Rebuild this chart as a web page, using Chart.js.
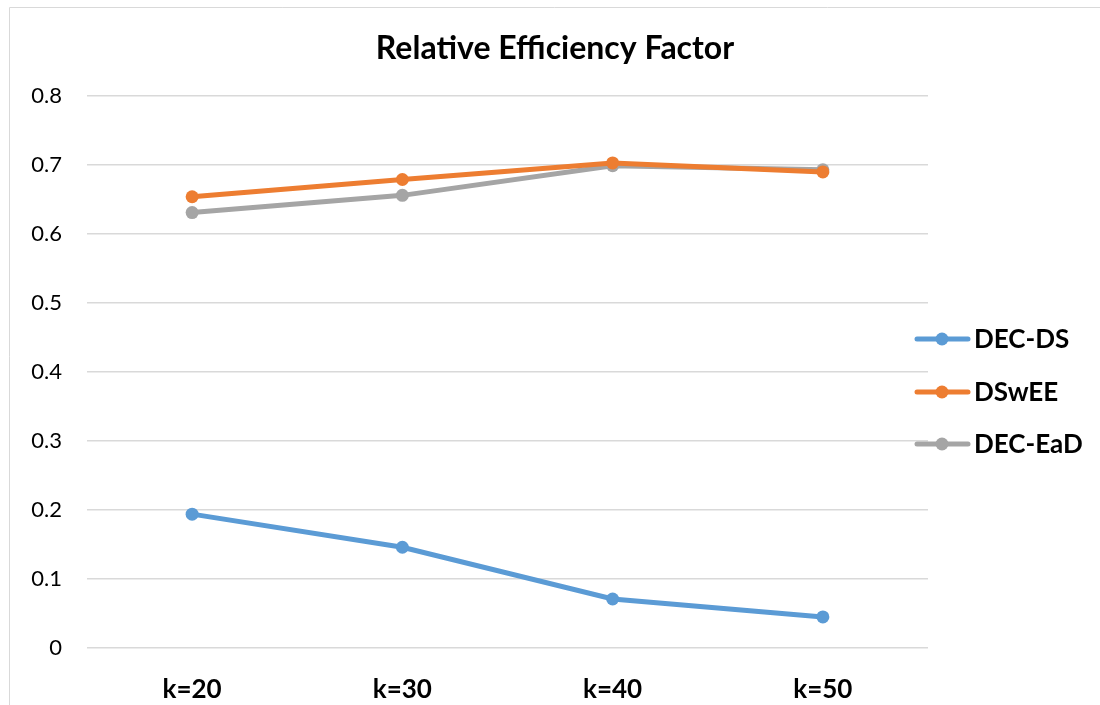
<!DOCTYPE html>
<html>
<head>
<meta charset="utf-8">
<script src="https://cdn.jsdelivr.net/npm/chart.js@4.4.1/dist/chart.umd.min.js"></script>
<style>
  html, body { margin: 0; padding: 0; background: #fff; }
  #wrap { width: 1100px; height: 705px; position: relative; }
</style>
</head>
<body>
<div id="wrap"><canvas id="effChart"></canvas></div>
<script>
const categories = ['k=20', 'k=30', 'k=40', 'k=50'];
const decDs = [0.194, 0.146, 0.071, 0.045];
const dswee = [0.654, 0.679, 0.703, 0.690];
const decEad = [0.631, 0.656, 0.699, 0.693];
const seriesNames = ['DEC-DS', 'DSwEE', 'DEC-EaD'];
const seriesColors = ['#5B9BD5', '#ED7D31', '#A5A5A5'];
const chartTitle = 'Relative Efficiency Factor';

const FONT = 'Lato, "Open Sans", sans-serif';

function makeSet(i, values) {
    return {
        label: seriesNames[i],
        data: values,
        borderColor: seriesColors[i],
        backgroundColor: seriesColors[i],
        borderWidth: 5,
        pointRadius: 6.5,
        pointHoverRadius: 6.5,
        pointBorderWidth: 0,
        tension: 0
    };
}

// outer frame of the chart box plus the title centred on the whole box
const framePlugin = {
    id: 'frame',
    beforeDraw(chart) {
        const c = chart.ctx;
        c.save();
        c.strokeStyle = '#d9d9d9';
        c.lineWidth = 1;
        c.beginPath();
        c.moveTo(9.5, chart.height);
        c.lineTo(9.5, 7.5);
        c.lineTo(chart.width, 7.5);
        c.stroke();
        c.fillStyle = '#000';
        c.font = 'bold 32px ' + FONT;
        c.textAlign = 'center';
        c.textBaseline = 'alphabetic';
        c.fillText(chartTitle, 555, 59);
        c.restore();
    }
};

// legend on the right: line sample with a marker, then bold name
const sideLegend = {
    id: 'sideLegend',
    afterDraw(chart) {
        const c = chart.ctx;
        const rows = [339, 392, 444];
        c.save();
        chart.data.datasets.forEach((ds, i) => {
            const y = rows[i];
            c.strokeStyle = ds.borderColor;
            c.lineWidth = 5;
            c.lineCap = 'round';
            c.beginPath();
            c.moveTo(917, y);
            c.lineTo(968, y);
            c.stroke();
            c.fillStyle = ds.borderColor;
            c.beginPath();
            c.arc(942, y, 6.5, 0, Math.PI * 2);
            c.fill();
            c.fillStyle = '#000';
            c.font = 'bold 26px ' + FONT;
            c.textAlign = 'left';
            c.textBaseline = 'middle';
            c.fillText(ds.label, 974, y + 1);
        });
        c.restore();
    }
};

const ctx = document.getElementById('effChart').getContext('2d');
const effChart = new Chart(ctx, {
    type: 'line',
    data: {
        labels: categories,
        datasets: [makeSet(0, decDs), makeSet(1, dswee), makeSet(2, decEad)]
    },
    options: {
        responsive: true,
        maintainAspectRatio: false,
        animation: false,
        layout: { padding: { top: 96, right: 172, bottom: 0, left: 0 } },
        plugins: {
            legend: { display: false },
            tooltip: { enabled: false },
            title: { display: false }
        },
        scales: {
            x: {
                offset: true,
                grid: { display: false, drawTicks: false },
                border: { display: false },
                ticks: {
                    color: '#000',
                    padding: 26,
                    font: { family: FONT, size: 26, weight: 'bold' }
                },
                afterFit(scale) { scale.height = 57; }
            },
            y: {
                min: 0,
                max: 0.8,
                grid: { color: '#d9d9d9', lineWidth: 1.5, drawTicks: false },
                border: { display: false },
                ticks: {
                    stepSize: 0.1,
                    color: '#000',
                    padding: 25,
                    font: { family: FONT, size: 22 },
                    callback: v => Math.round(v * 10) / 10
                },
                afterFit(scale) { scale.width = 87; }
            }
        }
    },
    plugins: [framePlugin, sideLegend]
});
</script>
</body>
</html>
